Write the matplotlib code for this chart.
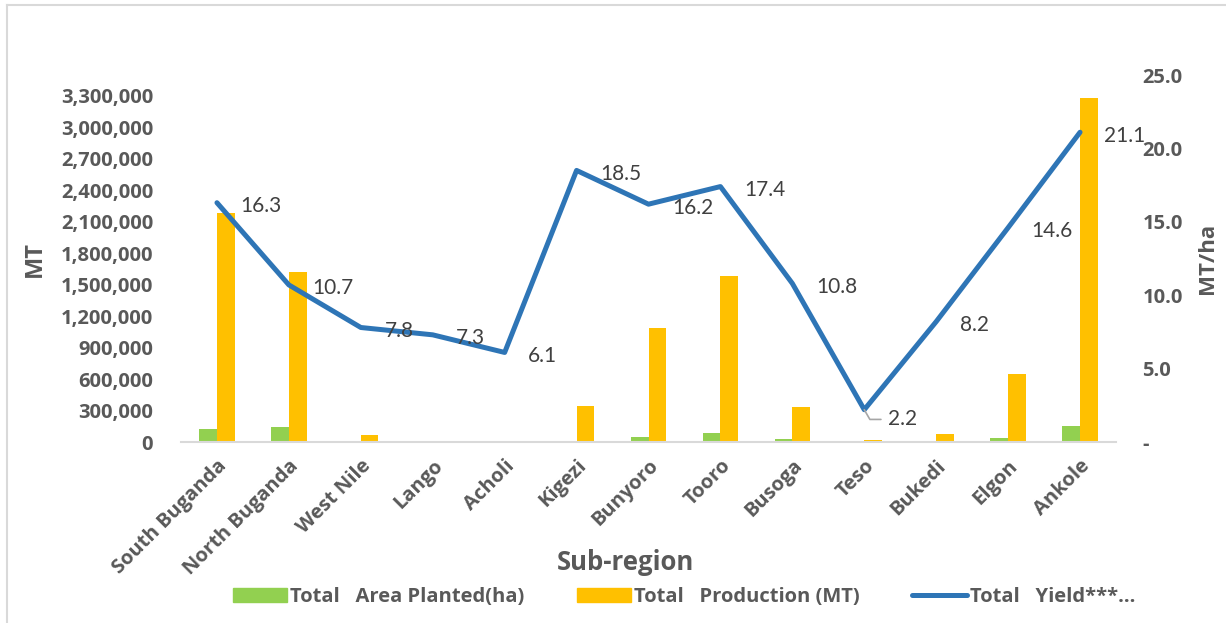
import matplotlib
matplotlib.use("Agg")
import matplotlib.pyplot as plt
from matplotlib.ticker import FixedLocator, FuncFormatter
from matplotlib.lines import Line2D
from matplotlib.patches import Patch
import numpy as np

regions = ["South Buganda", "North Buganda", "West Nile", "Lango", "Acholi",
           "Kigezi", "Bunyoro", "Tooro", "Busoga", "Teso", "Bukedi",
           "Elgon", "Ankole"]
area_ha = [124000, 143000, 2500, 600, 600, 12000, 45000, 85000, 30000,
           9000, 4000, 42000, 148000]
production_mt = [2185000, 1624000, 68000, 5000, 5000, 344000, 1090000,
                 1585000, 335000, 20000, 80000, 650000, 3276000]
yield_mt_ha = [16.3, 10.7, 7.8, 7.3, 6.1, 18.5, 16.2, 17.4, 10.8, 2.2,
               8.2, 14.6, 21.1]

GREEN = "#92d050"
ORANGE = "#ffc000"
BLUE = "#2e75b6"
TICK = "#595959"
LABEL = "#404040"
BOLD_FONT = ["Open Sans", "DejaVu Sans"]
NUM_FONT = ["Lato", "DejaVu Sans"]

plt.rcParams["font.family"] = BOLD_FONT

W, H = 1226, 623
fig = plt.figure(figsize=(W / 100, H / 100), dpi=100)
fig.patch.set_facecolor("white")

# plot area in pixel coordinates
left, right, top, bottom = 181, 1116, 75, 442
ax = fig.add_axes([left / W, 1 - bottom / H, (right - left) / W, (bottom - top) / H])
ax2 = ax.twinx()

x = np.arange(len(regions))
bw = 0.245
ax.bar(x - bw / 2, area_ha, width=bw, color=GREEN, zorder=2)
ax.bar(x + bw / 2, production_mt, width=bw, color=ORANGE, zorder=2)

ax.set_xlim(-0.5, len(regions) - 0.5)
ax.set_ylim(0, 3_500_000)
ax.yaxis.set_major_locator(FixedLocator(np.arange(0, 3_300_001, 300_000)))
ax.yaxis.set_major_formatter(FuncFormatter(lambda v, p: f"{int(v):,}"))

ax2.plot(x, yield_mt_ha, color=BLUE, lw=3.6, solid_capstyle="round",
         solid_joinstyle="round", zorder=3)
ax2.set_ylim(0, 25)
ax2.yaxis.set_major_locator(FixedLocator([0, 5, 10, 15, 20, 25]))
ax2.yaxis.set_major_formatter(FuncFormatter(lambda v, p: "-" if v == 0 else f"{v:.1f}"))

for a in (ax, ax2):
    for s in a.spines.values():
        s.set_visible(False)
    a.tick_params(axis="both", length=0, labelsize=14.5, labelcolor=TICK)
    for t in a.get_yticklabels():
        t.set_fontweight("bold")
ax.tick_params(axis="y", pad=20)
ax2.tick_params(axis="y", pad=19)

ax.spines["bottom"].set_visible(True)
ax.spines["bottom"].set_color("#d9d9d9")
ax.spines["bottom"].set_linewidth(1.5)

ax.set_xticks(x)
ax.set_xticklabels(regions, rotation=45, ha="right", rotation_mode="anchor",
                   fontsize=14.5, fontweight="bold", color=TICK)
ax.tick_params(axis="x", pad=10)

ax.set_ylabel("MT", fontsize=17, fontweight="bold", color=TICK, labelpad=10)
ax2.set_ylabel("MT/ha", fontsize=16, fontweight="bold", color=TICK, labelpad=10)
fig.text(625 / W, 1 - 562 / H, "Sub-region", ha="center", va="center",
         fontsize=18.5, fontweight="bold", color=TICK)

# data labels for the yield line; the Teso label sits lower with a leader line
for xi, (name, yv) in zip(x, zip(regions, yield_mt_ha)):
    if name == "Teso":
        ax2.annotate(f"{yv:.1f}", (xi, yv), xytext=(17, -7), textcoords="offset points",
                     ha="left", va="center", fontsize=15, color=LABEL, zorder=4,
                     family=NUM_FONT,
                     arrowprops=dict(arrowstyle="-", color="#a6a6a6", lw=1.2,
                                     connectionstyle="angle,angleA=0,angleB=-60,rad=0",
                                     shrinkA=3, shrinkB=0))
    else:
        ax2.annotate(f"{yv:.1f}", (xi, yv), xytext=(17, -2.5), textcoords="offset points",
                     ha="left", va="center", fontsize=15, color=LABEL, zorder=4,
                     family=NUM_FONT)

# legend
handles = [Patch(color=GREEN), Patch(color=ORANGE),
           Line2D([0], [0], color=BLUE, lw=3.6, solid_capstyle="round")]
labels = ["Total   Area Planted(ha)", "Total   Production (MT)", "Total   Yield***..."]
leg = fig.legend(handles, labels, loc="center", bbox_to_anchor=(684 / W, 1 - 597 / H),
                 ncol=3, frameon=False, handlelength=2.7, handleheight=0.75,
                 handletextpad=0.15, columnspacing=2.6,
                 prop={"family": BOLD_FONT, "weight": "bold", "size": 14.5})
for t in leg.get_texts():
    t.set_color(TICK)

# chart frame
fig.add_artist(Line2D([7 / W, 1], [1 - 5 / H, 1 - 5 / H], color="#d9d9d9", lw=1.5))
fig.add_artist(Line2D([7 / W, 7 / W], [1 - 5 / H, 0], color="#d9d9d9", lw=1.5))

fig.savefig("out.png", dpi=100, facecolor="white")
